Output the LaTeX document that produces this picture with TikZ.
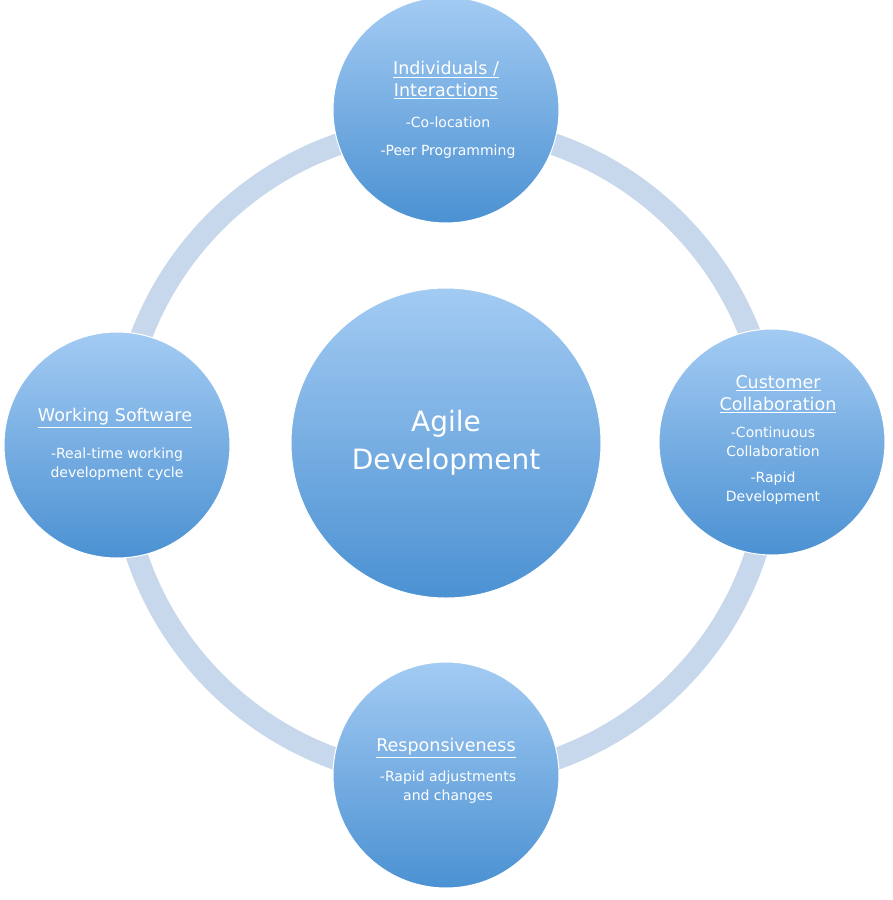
\documentclass[tikz,border=0pt]{standalone}
\usepackage{fontspec}
\setmainfont{DejaVu Sans}
\usepackage{xcolor}
\definecolor{ringblue}{HTML}{C7D7EC}
\definecolor{balltop}{HTML}{A3CBF3}
\definecolor{ballbot}{HTML}{4B91D2}
\tikzset{
  ball/.style={circle, top color=balltop, bottom color=ballbot, draw=white, line width=1pt,
    text=white, align=center, inner sep=0pt},
  head/.style={font=\fontsize{17.5}{22}\selectfont},
  item/.style={font=\fontsize{14}{19}\selectfont}
}
\newcommand{\ttl}[1]{\underline{#1}}
\begin{document}
\begin{tikzpicture}[x=1pt,y=-1pt]
  \useasboundingbox (0,0) rectangle (892,900);
  % ring
  \draw[ringblue, line width=22pt] (446,452) circle (326);
  % centre
  \node[ball, minimum size=310pt, font=\fontsize{28}{38}\selectfont] (agile) at (446,443) {Agile\\Development};
  % satellites
  \node[ball, minimum size=226pt] (indiv) at (446,110) {};
  \node[head, align=center, text=white] (indivt) at (446,80) {\ttl{Individuals /}\\\ttl{Interactions}};
  \node[item, align=center, text=white] (indivi) at (448,138) {-Co-location\\[9pt]-Peer Programming};
  \node[ball, minimum size=226pt] (work) at (117,445) {};
  \node[head, text=white] (workt) at (115,418) {\ttl{Working Software}};
  \node[item, align=center, text=white] (worki) at (117,464) {-Real-time working\\development cycle};
  \node[ball, minimum size=226pt] (cust) at (772,442) {};
  \node[head, align=center, text=white] (custt) at (778,394) {\ttl{Customer}\\\ttl{Collaboration}};
  \node[item, align=center, text=white] (custi) at (773,466) {-Continuous\\Collaboration\\[7pt]-Rapid\\Development};
  \node[ball, minimum size=226pt] (resp) at (446,775) {};
  \node[head, text=white] (respt) at (446,748) {\ttl{Responsiveness}};
  \node[item, align=center, text=white] (respi) at (448,787) {-Rapid adjustments\\and changes};
\end{tikzpicture}
\end{document}
